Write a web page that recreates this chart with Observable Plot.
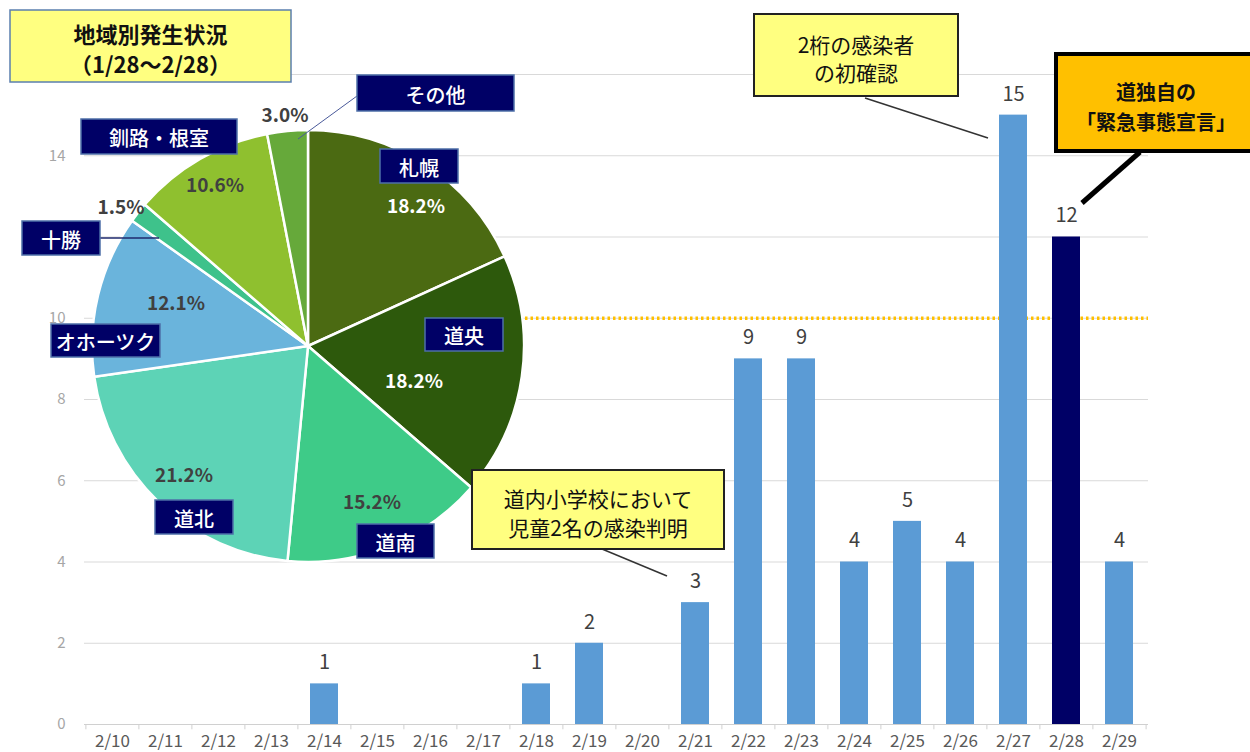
<!DOCTYPE html>
<html><head><meta charset="utf-8">
<script src="https://cdn.jsdelivr.net/npm/d3@7"></script>
<script src="https://cdn.jsdelivr.net/npm/@observablehq/plot@0.6"></script>
<style>body{margin:0;background:#fff;} svg{display:block}</style>
</head><body><div id="chart"></div>
<script>
// ---------- data ----------
const dates = ["2/10","2/11","2/12","2/13","2/14","2/15","2/16","2/17","2/18","2/19","2/20","2/21","2/22","2/23","2/24","2/25","2/26","2/27","2/28","2/29"];
const cases = [0,0,0,0,1,0,0,0,1,2,0,3,9,9,4,5,4,15,12,4];
const highlightDate = "2/28";
const gridTicks = [0,2,4,6,8,10,12,14,16];
const yLabelTicks = [0,2,4,6,8,10,14];   // 12 and 16 are hidden behind labels in the original
const thresholdValue = 10;
const regions = ["札幌","道央","道南","道北","オホーツク","十勝","釧路・根室","その他"];
const regionCounts = [12,12,10,14,8,1,7,2];
const titleLines = ["地域別発生状況","（1/28～2/28）"];
const callout1Lines = ["道内小学校において","児童2名の感染判明"];
const callout2Lines = ["2桁の感染者","の初確認"];
const callout3Lines = ["道独自の","「緊急事態宣言」"];

// ---------- layout / style ----------
const FONT = "'Noto Sans CJK JP','Noto Sans',sans-serif";
const NUMFONT = "'Liberation Sans Narrow','Noto Sans CJK JP',sans-serif";
const W = 1250, H = 752;
const M = {top:74, right:102, bottom:28, left:84};
const regionColors = ["#4B6A12","#2D590C","#3ECB88","#5DD3B6","#6AB4DC","#3EC28B","#8FC02F","#66A93A"];
const pctColors = ["#ffffff","#ffffff","#404040","#404040","#404040","#404040","#404040","#404040"];
const pieGeom = {cx:308, cy:346, r:216};
const labelBoxes = [
  {x:380,y:149,w:78,h:34},  // 札幌
  {x:425,y:318,w:78,h:33},  // 道央
  {x:357,y:524,w:77,h:34},  // 道南
  {x:155,y:500,w:78,h:34},  // 道北
  {x:51,y:324,w:109,h:33},  // オホーツク
  {x:22,y:221,w:78,h:34},   // 十勝
  {x:81,y:119,w:156,h:35},  // 釧路・根室
  {x:357,y:75,w:157,h:36}   // その他
];
const pctPos = [[416,204],[414,379],[372,500],[184,473],[176,301],[121,205],[215,183],[285,113]];

const barData = dates.map((d,i)=>({date:d, cases:cases[i]}));
const pieData = regions.map((r,i)=>({region:r, count:regionCounts[i]}));
const total = d3.sum(regionCounts);
const step = (W - M.left - M.right) / dates.length;

function pieMark() {
  const g = d3.create("svg:g").attr("font-family", FONT);
  const arcs = d3.pie().sort(null).value(d=>d.count)(pieData);
  const arcGen = d3.arc().innerRadius(0).outerRadius(pieGeom.r);
  g.append("g").attr("transform",`translate(${pieGeom.cx},${pieGeom.cy})`)
    .selectAll("path").data(arcs).join("path")
    .attr("d", arcGen).attr("fill",(d,i)=>regionColors[i])
    .attr("stroke","#fff").attr("stroke-width",2.5).attr("stroke-linejoin","round");
  // leader lines
  g.append("line").attr("x1",357).attr("y1",96).attr("x2",298).attr("y2",139).attr("stroke","#4a5a9a").attr("stroke-width",1);
  g.append("line").attr("x1",100).attr("y1",238).attr("x2",159).attr("y2",238).attr("stroke","#1f2a6e").attr("stroke-width",1.5);
  // percent labels
  g.selectAll("text.pct").data(pieData).join("text").attr("class","pct")
    .attr("x",(d,i)=>pctPos[i][0]).attr("y",(d,i)=>pctPos[i][1])
    .attr("text-anchor","middle").attr("dominant-baseline","central")
    .attr("font-size",19).attr("font-weight","bold").attr("fill",(d,i)=>pctColors[i])
    .text(d=>(d.count/total*100).toFixed(1)+"%");
  // region label boxes
  const lb = g.selectAll("g.lb").data(pieData).join("g").attr("class","lb");
  lb.append("rect").attr("x",(d,i)=>labelBoxes[i].x).attr("y",(d,i)=>labelBoxes[i].y)
    .attr("width",(d,i)=>labelBoxes[i].w).attr("height",(d,i)=>labelBoxes[i].h)
    .attr("fill","#000066").attr("stroke","#4d6fa8").attr("stroke-width",1.5);
  lb.append("text").attr("x",(d,i)=>labelBoxes[i].x+labelBoxes[i].w/2).attr("y",(d,i)=>labelBoxes[i].y+labelBoxes[i].h/2+1)
    .attr("text-anchor","middle").attr("dominant-baseline","central")
    .attr("font-size",20).attr("font-weight",500).attr("fill","#fff").text(d=>d.region);
  return g.node();
}

function boxText(g, box, lines, opt) {
  g.append("rect").attr("x",box.x).attr("y",box.y).attr("width",box.w).attr("height",box.h)
    .attr("fill",opt.fill).attr("stroke",opt.stroke).attr("stroke-width",opt.sw);
  lines.forEach((t,i)=>{
    g.append("text").attr("x",box.x+box.w/2).attr("y",opt.ys[i])
      .attr("text-anchor","middle").attr("dominant-baseline","central")
      .attr("font-size",opt.fs).attr("font-weight",opt.fw).attr("fill","#111").text(t);
  });
}

function annotationMark() {
  const g = d3.create("svg:g").attr("font-family", FONT);
  // title
  boxText(g,{x:10,y:10,w:281,h:72},titleLines,{fill:"#FFFF80",stroke:"#5b7fae",sw:1.5,ys:[33,63],fs:22,fw:"bold"});
  // callout 1
  g.append("line").attr("x1",602).attr("y1",549).attr("x2",667).attr("y2",576).attr("stroke","#333").attr("stroke-width",1.5);
  boxText(g,{x:472,y:470,w:252,h:79},callout1Lines,{fill:"#FFFF80",stroke:"#222",sw:2,ys:[498,527],fs:21,fw:"normal"});
  // callout 2
  g.append("line").attr("x1",865).attr("y1",98).attr("x2",988).attr("y2",138).attr("stroke","#333").attr("stroke-width",1.5);
  boxText(g,{x:754,y:14,w:204,h:82},callout2Lines,{fill:"#FFFF80",stroke:"#222",sw:2,ys:[44,72],fs:21,fw:"normal"});
  // callout 3
  g.append("line").attr("x1",1140).attr("y1",152).attr("x2",1082).attr("y2",203).attr("stroke","#000").attr("stroke-width",5);
  boxText(g,{x:1056,y:54,w:200,h:97},callout3Lines,{fill:"#FFC000",stroke:"#000",sw:4,ys:[91,121],fs:20,fw:"bold"});
  return g.node();
}

const chart = Plot.plot({
  width: W, height: H,
  marginTop: M.top, marginRight: M.right, marginBottom: M.bottom, marginLeft: M.left,
  style: {fontFamily: FONT, background: "#fff", overflow: "visible"},
  x: {type: "band", domain: dates, paddingInner: 0.47, paddingOuter: 0.235, label: null},
  y: {domain: [0, 16], label: null},
  marks: [
    Plot.gridY(gridTicks, {stroke: "#d9d9d9", strokeOpacity: 1, strokeWidth: 1}),
    Plot.ruleY([0], {stroke: "#d0d0d0", strokeWidth: 1}),
    Plot.ruleX(dates, {x: d=>d, y1: 0, y2: -0.13, dx: -step/2, stroke: "#d0d0d0"}),
    Plot.ruleX([dates[dates.length-1]], {x: d=>d, y1: 0, y2: -0.13, dx: step/2, stroke: "#d0d0d0"}),
    Plot.axisX({tickSize: 0, tickPadding: 10, fontSize: 17, fontFamily: NUMFONT, color: "#595959"}),
    Plot.axisY(yLabelTicks, {tickSize: 0, tickPadding: 19, fontSize: 15, fontFamily: NUMFONT, color: "#a6a6a6"}),
    Plot.ruleY([thresholdValue], {stroke: "#FFC000", strokeWidth: 3.5, strokeDasharray: "2.5,3", insetLeft: 430}),
    Plot.barY(barData.filter(d=>d.date!==highlightDate), {x: "date", y: "cases", fill: "#5B9BD5"}),
    Plot.barY(barData.filter(d=>d.date===highlightDate), {x: "date", y: "cases", fill: "#000066"}),
    Plot.text(barData.filter(d=>d.cases>0), {x: "date", y: "cases", text: d=>String(d.cases), dy: -21, fontSize: 20, fontFamily: NUMFONT, fill: "#404040"}),
    pieMark,
    annotationMark
  ]
});
document.getElementById("chart").append(chart);
</script>
</body></html>
